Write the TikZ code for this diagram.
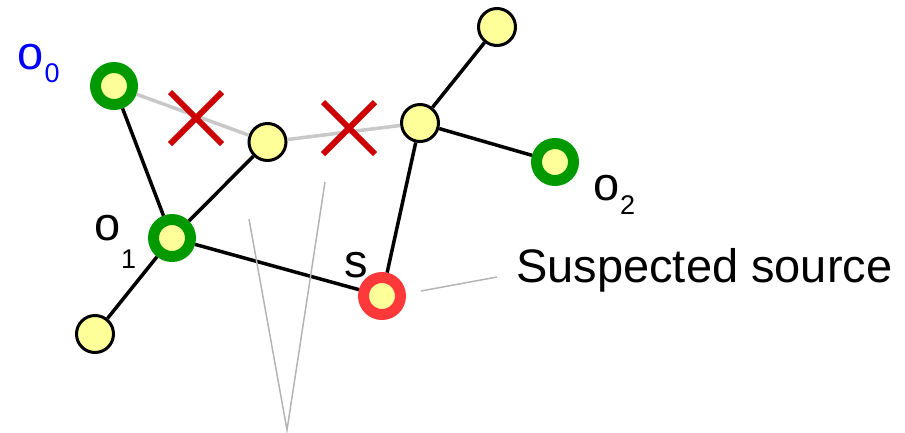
\documentclass[tikz,border=0pt]{standalone}
\usepackage{fontspec}
\setmainfont{Liberation Sans}
\definecolor{nodeyellow}{HTML}{FFFF99}
\definecolor{obsgreen}{HTML}{009900}
\definecolor{srcred}{HTML}{FF3939}
\definecolor{cutred}{HTML}{CC0000}
\definecolor{cutgray}{HTML}{C8C8C8}
\definecolor{pointgray}{HTML}{B4B4B4}
\tikzset{
  vertex/.style={circle,draw=black,fill=nodeyellow,line width=3pt,minimum size=37pt,inner sep=0pt},
  observer/.style={circle,draw=obsgreen,fill=nodeyellow,line width=11pt,minimum size=37pt,inner sep=0pt},
  source/.style={observer,draw=srcred},
  link/.style={line width=3.5pt,black},
  cutlink/.style={line width=3.5pt,cutgray},
  pointer/.style={line width=1.5pt,pointgray},
  lbl/.style={font=\fontsize{47}{50}\selectfont,inner sep=0pt,anchor=base west},
  sublbl/.style={font=\fontsize{27}{30}\selectfont,inner sep=0pt,anchor=base west}
}
\begin{document}
\begin{tikzpicture}[x=1pt,y=-1pt]
      \useasboundingbox (0,0) rectangle (905,432);
      % network
      \node[observer] (o0) at (114,86) {};
      \node[observer] (o1) at (172,238) {};
      \node[observer] (o2) at (555,162) {};
      \node[source] (s) at (382,296) {};
      \node[vertex] (v1) at (267.5,142) {};
      \node[vertex] (v2) at (420,123) {};
      \node[vertex] (v3) at (497,27) {};
      \node[vertex] (v4) at (95,334) {};
      \draw[cutlink] (o0) -- (v1) -- (v2);
      \draw[link] (o0) -- (o1);
      \draw[link] (o1) -- (v1);
      \draw[link] (o1) -- (s);
      \draw[link] (o1) -- (v4);
      \draw[link] (v2) -- (s);
      \draw[link] (v2) -- (v3);
      \draw[link] (v2) -- (o2);
      % cut marks
      \foreach \cx/\cy in {196/118,349/128}
        \draw[cutred,line width=6pt] (\cx-26,\cy-26) -- (\cx+26,\cy+26) (\cx-26,\cy+26) -- (\cx+26,\cy-26);
      % labels
      \node[lbl,text=blue] (o0lbl) at (17.5,69) {o};
      \node[sublbl,text=blue] (o0sub) at (44.5,82) {0};
      \node[lbl] (o1lbl) at (94.5,240) {o};
      \node[sublbl] (o1sub) at (121,268) {1};
      \node[lbl] (o2lbl) at (593,200) {o};
      \node[sublbl] (o2sub) at (620,214) {2};
      \node[lbl] (slbl) at (344,277) {s};
      \node[lbl] (srclbl) at (516,282) {Suspected source};
      % pointers
      \coordinate (p1) at (421,291);
      \coordinate (p2) at (497,277);
      \draw[pointer] (p1) -- (p2);
      \coordinate (va) at (249,219);
      \coordinate (vb) at (325,182);
      \coordinate (vc) at (287,430);
      \draw[pointer] (va) -- (vc) -- (vb);
\end{tikzpicture}
\end{document}
